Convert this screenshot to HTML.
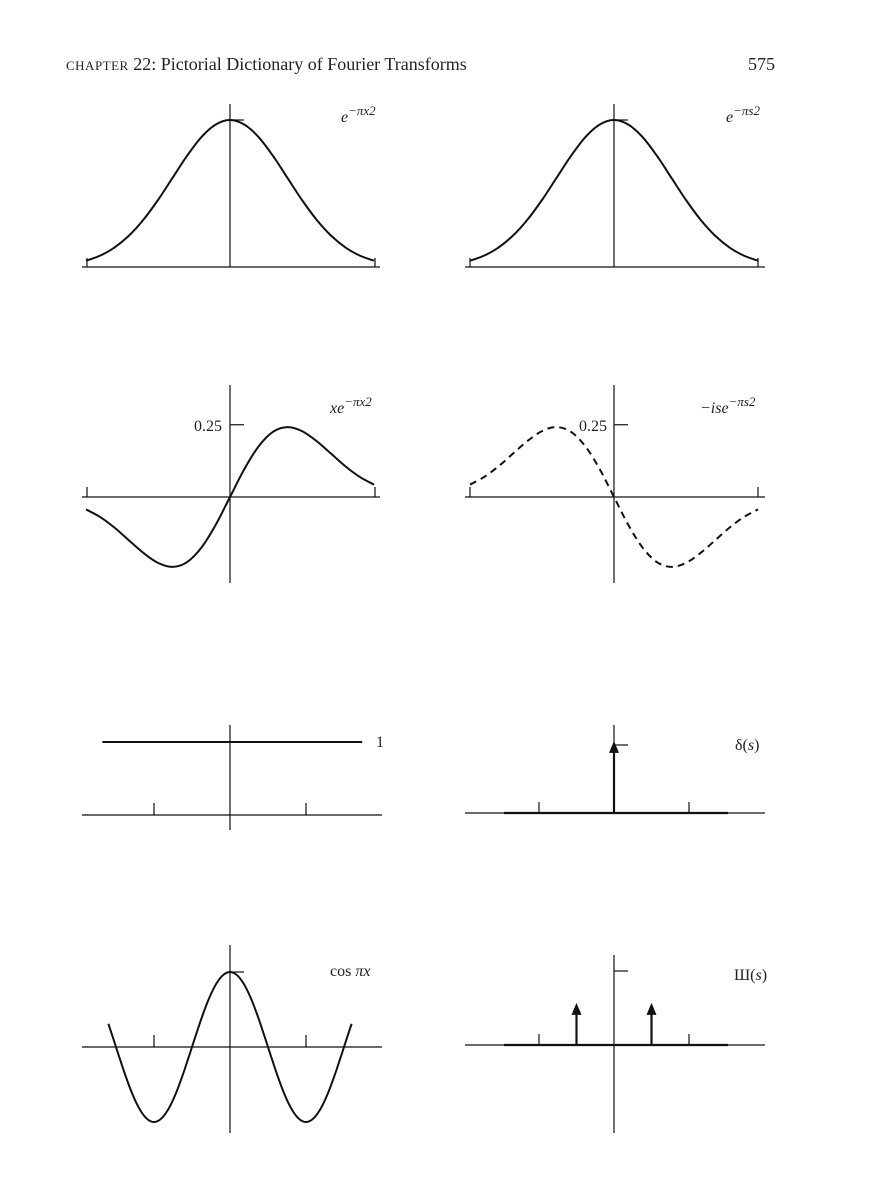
<!DOCTYPE html>
<html><head><meta charset="utf-8">
<style>
html,body{margin:0;padding:0;background:#fff;}
svg{display:block;}
text{font-family:"Liberation Serif",serif;fill:#222;}
</style></head>
<body>
<svg id="page" width="886" height="1200" viewBox="0 0 886 1200" xmlns="http://www.w3.org/2000/svg">
  <g>
    <text x="66" y="70" font-size="18"><tspan font-size="13" letter-spacing="0.5">CHAPTER</tspan> 22: Pictorial Dictionary of Fourier Transforms</text>
    <text x="775" y="70" font-size="18" text-anchor="end">575</text>
  </g>
  <g id="plots" stroke="#111" fill="none"></g>
</svg>
<script>
// ---- data ----
const gaussX = [-1,-0.9,-0.8,-0.7,-0.6,-0.5,-0.4,-0.3,-0.2,-0.1,0,0.1,0.2,0.3,0.4,0.5,0.6,0.7,0.8,0.9,1];
const gaussY = [0.043,0.078,0.134,0.215,0.323,0.456,0.605,0.754,0.882,0.969,1,0.969,0.882,0.754,0.605,0.456,0.323,0.215,0.134,0.078,0.043];
const oddY = [-0.043,-0.070,-0.107,-0.151,-0.194,-0.228,-0.242,-0.226,-0.176,-0.097,0,0.097,0.176,0.226,0.242,0.228,0.194,0.151,0.107,0.070,0.043];
const negOddY = [0.043,0.070,0.107,0.151,0.194,0.228,0.242,0.226,0.176,0.097,0,-0.097,-0.176,-0.226,-0.242,-0.228,-0.194,-0.151,-0.107,-0.070,-0.043];
const cosX = [-1.6,-1.5,-1.4,-1.3,-1.2,-1.1,-1,-0.9,-0.8,-0.7,-0.6,-0.5,-0.4,-0.3,-0.2,-0.1,0,0.1,0.2,0.3,0.4,0.5,0.6,0.7,0.8,0.9,1,1.1,1.2,1.3,1.4,1.5,1.6];
const cosY = [0.309,0,-0.309,-0.588,-0.809,-0.951,-1,-0.951,-0.809,-0.588,-0.309,0,0.309,0.588,0.809,0.951,1,0.951,0.809,0.588,0.309,0,-0.309,-0.588,-0.809,-0.951,-1,-0.951,-0.809,-0.588,-0.309,0,0.309];
const constX = [-1.68, 1.74];
const constY = [1, 1];
const deltaPos = [0];
const deltaHeight = [1];
const shahPos = [-0.5, 0.5];
const shahHeight = [0.57, 0.57];
const tickLabels = ["0.25"];

const NS = "http://www.w3.org/2000/svg";
const root = document.getElementById('plots');
function mk(tag, attrs, parent){ const e=document.createElementNS(NS,tag); for(const k in attrs) e.setAttribute(k,attrs[k]); (parent||root).appendChild(e); return e; }
function line(g,x1,y1,x2,y2,w){ return mk('line',{x1,y1,x2,y2,'stroke-width':w||1.2},g); }
function smooth(pts){
  let d='M'+pts[0][0].toFixed(1)+','+pts[0][1].toFixed(1);
  for(let i=0;i<pts.length-1;i++){
    const p0=pts[i-1]||pts[i],p1=pts[i],p2=pts[i+1],p3=pts[i+2]||p2;
    const c1=[p1[0]+(p2[0]-p0[0])/6,p1[1]+(p2[1]-p0[1])/6];
    const c2=[p2[0]-(p3[0]-p1[0])/6,p2[1]-(p3[1]-p1[1])/6];
    d+=' C'+c1.map(v=>v.toFixed(1)).join(',')+' '+c2.map(v=>v.toFixed(1)).join(',')+' '+p2[0].toFixed(1)+','+p2[1].toFixed(1);
  }
  return d;
}
function panel(name, cx, cy, ux, uy){
  const g=mk('g',{});
  
  
  return {g, X:v=>cx+v*ux, Y:v=>cy-v*uy};
}
function curve(p, xs, ys, name, dash){
  const path=mk('path',{d:smooth(xs.map((x,i)=>[p.X(x),p.Y(ys[i])])),'stroke-width':2,'stroke-dasharray':dash||'none'},p.g);
  
  
}
function label(p,x,y,html,name,anchor){
  const t=mk('text',{x,y,'font-size':16,'font-style':'italic',stroke:'none','text-anchor':anchor||'start'},p.g);
  t.innerHTML=html;
  
  
}
function arrow(p,xv,h,name){
  const x=p.X(xv), y0=p.Y(0), y1=p.Y(h);
  const a=mk('g',{},p.g);
  
  
  line(a,x,y0,x,y1+6,2.2);
  mk('path',{d:`M${x},${y1} L${x-5},${y1+12} L${x+5},${y1+12} Z`,fill:'#111',stroke:'none'},a);
}

// Panel 1: gaussian x
let p=panel('gaussian-x-panel',230,267,144,147);
line(p.g,82,267,380,267); line(p.g,230,104,230,267);
line(p.g,87,258,87,267); line(p.g,375,258,375,267);
line(p.g,230,p.Y(1),244,p.Y(1));
curve(p,gaussX,gaussY,'gaussian-x-curve');
label(p,341,122,'e<tspan font-size="13" dy="-7">−πx2</tspan>','gaussian-x-label');

// Panel 2: gaussian s
p=panel('gaussian-s-panel',614,267,144,147);
line(p.g,465,267,765,267); line(p.g,614,104,614,267);
line(p.g,470,258,470,267); line(p.g,758,258,758,267);
line(p.g,614,p.Y(1),628,p.Y(1));
curve(p,gaussX,gaussY,'gaussian-s-curve');
label(p,726,122,'e<tspan font-size="13" dy="-7">−πs2</tspan>','gaussian-s-label');

// Panel 3: x e^{-pi x^2}
p=panel('odd-gaussian-x-panel',230,497,144,289);
line(p.g,82,497,380,497); line(p.g,230,385,230,583);
line(p.g,87,487,87,497); line(p.g,375,487,375,497);
line(p.g,230,p.Y(0.25),244,p.Y(0.25));
label(p,222,p.Y(0.25)+6,tickLabels[0],'y-tick-0.25-left','end');
p.g.lastChild.setAttribute('font-style','normal');
curve(p,gaussX,oddY,'odd-gaussian-x-curve');
label(p,330,413,'xe<tspan font-size="13" dy="-7">−πx2</tspan>','odd-gaussian-x-label');

// Panel 4: -i s e^{-pi s^2}
p=panel('odd-gaussian-s-panel',614,497,144,289);
line(p.g,465,497,765,497); line(p.g,614,385,614,583);
line(p.g,470,487,470,497); line(p.g,758,487,758,497);
line(p.g,614,p.Y(0.25),628,p.Y(0.25));
label(p,607,p.Y(0.25)+6,tickLabels[0],'y-tick-0.25-right','end');
p.g.lastChild.setAttribute('font-style','normal');
curve(p,gaussX,negOddY,'odd-gaussian-s-curve','7,5');
label(p,700,413,'−ise<tspan font-size="13" dy="-7">−πs2</tspan>','odd-gaussian-s-label');

// Panel 5: constant 1
p=panel('constant-panel',230,815,76,73);
line(p.g,82,815,382,815); line(p.g,230,725,230,830);
line(p.g,p.X(-1),803,p.X(-1),815); line(p.g,p.X(1),803,p.X(1),815);
curve(p,constX,constY,'constant-line');
label(p,376,747,'1','constant-label');
p.g.lastChild.setAttribute('font-style','normal');

// Panel 6: delta
p=panel('delta-panel',614,813,75,68);
line(p.g,465,813,765,813); line(p.g,504,813,728,813,2.2); line(p.g,614,725,614,813);
line(p.g,p.X(-1),802,p.X(-1),813); line(p.g,p.X(1),802,p.X(1),813);
line(p.g,614,p.Y(1),628,p.Y(1));
deltaPos.forEach((x,i)=>arrow(p,x,deltaHeight[i]*1.06,'delta-impulse'));
label(p,735,750,'<tspan font-style="normal">δ(</tspan>s<tspan font-style="normal">)</tspan>','delta-label');

// Panel 7: cos pi x
p=panel('cosine-panel',230,1047,76,75);
line(p.g,82,1047,382,1047); line(p.g,230,945,230,1133);
line(p.g,p.X(-1),1035,p.X(-1),1047); line(p.g,p.X(1),1035,p.X(1),1047);
line(p.g,230,p.Y(1),244,p.Y(1));
curve(p,cosX,cosY,'cosine-curve');
label(p,330,976,'<tspan font-style="normal">cos </tspan>πx','cosine-label');

// Panel 8: shah
p=panel('shah-panel',614,1045,75,74);
line(p.g,465,1045,765,1045); line(p.g,504,1045,728,1045,2.2); line(p.g,614,955,614,1133);
line(p.g,p.X(-1),1034,p.X(-1),1045); line(p.g,p.X(1),1034,p.X(1),1045);
line(p.g,614,p.Y(1),628,p.Y(1));
shahPos.forEach((x,i)=>arrow(p,x,shahHeight[i],'shah-impulse-'+i));
label(p,734,980,'<tspan font-style="normal">Ш(</tspan>s<tspan font-style="normal">)</tspan>','shah-label');
</script>
</body></html>
